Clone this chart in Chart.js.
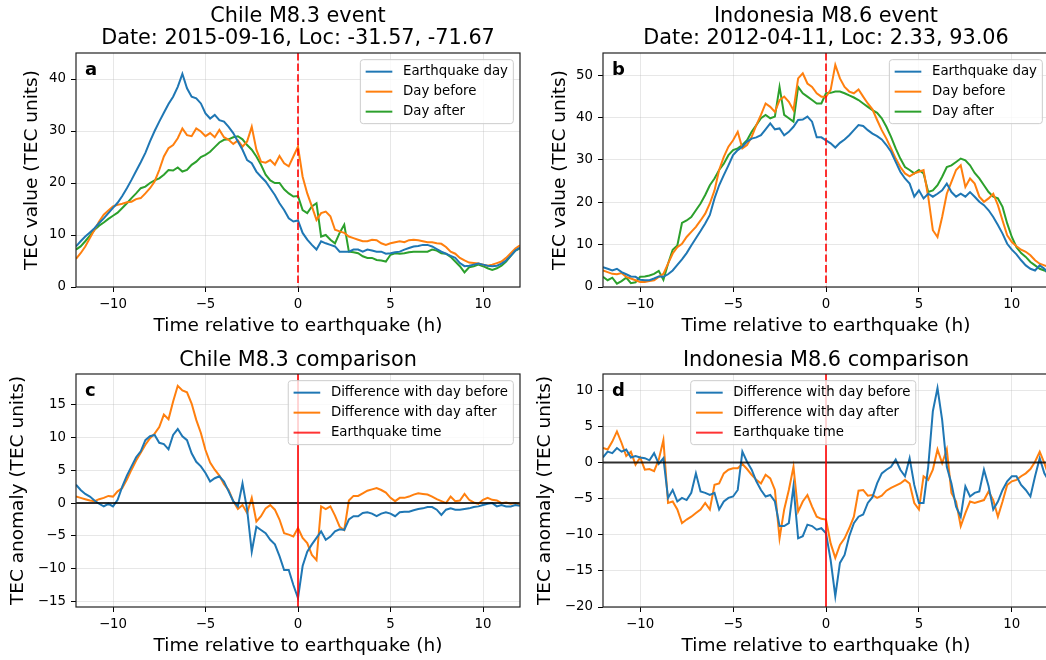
<!DOCTYPE html>
<html>
<head>
<meta charset="utf-8">
<title>TEC around two earthquakes</title>
<script src="https://cdn.jsdelivr.net/npm/chart.js@4.4.0/dist/chart.umd.min.js"></script>
<style>
    html, body { margin: 0; padding: 0; background: #fff; overflow: hidden; }
    body { width: 1046px; height: 660px; position: relative; }
    canvas.panel { position: absolute; }
</style>
</head>
<body>
<canvas id="chartA" class="panel" width="530" height="340" style="left:0;top:0"></canvas>
<canvas id="chartB" class="panel" width="520" height="340" style="left:530px;top:0"></canvas>
<canvas id="chartC" class="panel" width="530" height="320" style="left:0;top:340px"></canvas>
<canvas id="chartD" class="panel" width="520" height="320" style="left:530px;top:340px"></canvas>
<script>
// hours relative to the earthquake (15 min samples)
var times = [
    -12, -11.75, -11.5, -11.25, -11, -10.75, -10.5, -10.25,
    -10, -9.75, -9.5, -9.25, -9, -8.75, -8.5, -8.25,
    -8, -7.75, -7.5, -7.25, -7, -6.75, -6.5, -6.25,
    -6, -5.75, -5.5, -5.25, -5, -4.75, -4.5, -4.25,
    -4, -3.75, -3.5, -3.25, -3, -2.75, -2.5, -2.25,
    -2, -1.75, -1.5, -1.25, -1, -0.75, -0.5, -0.25,
    0, 0.25, 0.5, 0.75, 1, 1.25, 1.5, 1.75,
    2, 2.25, 2.5, 2.75, 3, 3.25, 3.5, 3.75,
    4, 4.25, 4.5, 4.75, 5, 5.25, 5.5, 5.75,
    6, 6.25, 6.5, 6.75, 7, 7.25, 7.5, 7.75,
    8, 8.25, 8.5, 8.75, 9, 9.25, 9.5, 9.75,
    10, 10.25, 10.5, 10.75, 11, 11.25, 11.5, 11.75,
    12
];
var eqHour = 0;
var zeroLevel = 0;

var xTicks = [-10, -5, 0, 5, 10];
var aTicks = [0, 10, 20, 30, 40];
var bTicks = [0, 10, 20, 30, 40, 50];
var cTicks = [-15, -10, -5, 0, 5, 10, 15];
var dTicks = [-20, -15, -10, -5, 0, 5, 10];

// Chile M8.3 - TEC values
var chileEqDay = [
    7.8, 8.8, 9.7, 10.5, 11.3, 12.3, 13.2, 14.2,
    15.2, 16.2, 17.5, 19, 20.6, 22.3, 24, 25.8,
    28, 30, 31.8, 33.5, 35.2, 36.6, 38.5, 41,
    38.2, 36.6, 36.3, 35.3, 33.4, 32.4, 33.1, 32.1,
    31.8, 30.8, 29.6, 28, 26.4, 24.4, 23.8, 22.2,
    21.2, 20.3, 19, 17.7, 16.1, 14.8, 13.2, 12.6,
    12.8, 10.4, 9.1, 8.1, 7.2, 8.8, 8.4, 8.1,
    7.8, 6.8, 6.8, 6.8, 7.2, 7.2, 6.8, 7.2,
    7, 6.8, 6.8, 6.4, 6.5, 6.7, 6.8, 7.2,
    7.5, 7.8, 7.9, 8.1, 8.1, 7.8, 7.3, 6.8,
    6.4, 6.0, 5.6, 4.6, 4.0, 4.1, 4.3, 4.5,
    4.3, 4.1, 4.0, 4.1, 4.5, 5.1, 6.0, 7.0,
    7.6
];
var chileBefore = [
    5.4, 6.5, 7.8, 9.4, 11, 12.6, 13.9, 14.7,
    15.5, 15.8, 16.0, 16.3, 16.4, 16.9, 17.1, 18.0,
    19.0, 20.3, 22.5, 25.1, 26.7, 27.3, 28.6, 30.5,
    29.2, 29.0, 30.5, 29.9, 29.0, 29.6, 28.8, 30.2,
    28.8, 28.3, 27.5, 28.2, 27, 28, 30.8, 26.4,
    24.1, 23.9, 24.4, 23.5, 25.2, 23.8, 23.2, 25.1,
    27, 21.2, 18, 15.5, 12.9, 14.2, 14.5, 13.6,
    11, 10.7, 10.4, 9.7, 9.4, 9.1, 8.8, 8.8,
    9.1, 9.0, 8.4, 8.1, 8.4, 8.6, 8.8, 8.6,
    9.0, 9.1, 9.0, 8.8, 8.6, 8.6, 8.4, 8.3,
    7.7, 6.8, 6.4, 5.6, 5.1, 4.7, 4.6, 4.5,
    4.3, 4.1, 4.3, 4.6, 4.9, 5.6, 6.5, 7.4,
    8.0
];
var chileAfter = [
    7.2, 7.8, 8.8, 9.9, 11, 11.8, 12.4, 13.1,
    13.7, 14.3, 15.2, 16.1, 17.1, 18.0, 19.0, 19.3,
    20, 20.5, 20.9, 21.6, 22.5, 22.4, 23, 22.2,
    22.5, 23.5, 24.1, 25, 25.4, 26, 26.9, 27.8,
    28.3, 28.4, 28.8, 29.0, 28.4, 27.3, 26.4, 25.1,
    23.5, 21.6, 20.5, 20, 20, 18.8, 18, 17.4,
    17.5, 14.8, 14.2, 15.5, 16.1, 9.7, 10, 9.1,
    8.4, 10.4, 12, 6.8, 6.7, 6.5, 5.9, 5.6,
    5.6, 5.2, 5.1, 4.9, 6.2, 6.5, 6.4, 6.5,
    6.7, 6.8, 6.8, 6.8, 6.8, 7.2, 7.0, 6.5,
    6.4, 5.8, 4.9, 4.0, 2.8, 3.8, 4.0, 4.3,
    4.0, 3.6, 3.3, 3.6, 4.1, 4.9, 6.0, 7.0,
    7.4
];

// Indonesia M8.6 - TEC values
var indoEqDay = [
    4.7, 4.3, 3.9, 4.3, 3.5, 3.0, 2.5, 2.4,
    1.7, 1.6, 1.6, 2.0, 2.5, 2.4, 3.0, 3.9,
    5.2, 6.5, 8, 9.8, 11.5, 13.2, 15, 17,
    20.9, 24, 26.4, 28.7, 31.1, 32.3, 33.1, 34.3,
    35, 35.3, 35.8, 37.2, 38.6, 37.2, 37.4, 35.8,
    36.6, 37.8, 39.4, 39.5, 40.2, 39, 35.3, 35.3,
    34.6, 33.9, 32.9, 34, 34.8, 35.8, 37, 38.2,
    38, 37, 36.2, 35.6, 34.8, 33.5, 31.9, 29.5,
    27.2, 25.6, 24.4, 21.3, 22.8, 20.9, 22, 21.3,
    22, 22.8, 24.4, 22.4, 21.3, 22, 21.3, 22.4,
    21.3, 20.1, 19.3, 18.1, 16.5, 14.6, 12.6, 10.2,
    8.8, 7.7, 6.3, 5.1, 4.3, 3.9, 5.1, 4.3,
    3.0
];
var indoBefore = [
    3.9, 3.5, 3.1, 3.0, 3.3, 2.4, 2.0, 1.6,
    1.2, 1.2, 1.4, 1.6, 2.4, 3.1, 5.5, 7.9,
    9.4, 10.2, 11.8, 13, 14.2, 15.7, 17.3, 19.7,
    22.8, 27.6, 30.7, 33.1, 34.6, 36.6, 32.7, 33.5,
    35.4, 38.2, 40.6, 43.3, 42.5, 41.3, 44.1, 44.9,
    43.7, 41.7, 49.2, 50.4, 48, 47.2, 45.7, 44.9,
    44.9, 46.5, 52.4, 49.2, 47.2, 46.1, 45.7, 46.6,
    44.9, 43.3, 41.9, 39.4, 37, 35, 32.7, 30.3,
    28.3, 26.8, 26.1, 26.8, 27.2, 27.6, 21.3, 13.4,
    11.8, 16.5, 22, 24.8, 27.6, 28.7, 23.6, 25.6,
    24.4, 21.3, 20.1, 20.9, 22, 19.3, 15.7, 12.2,
    10.6, 9.6, 8.8, 8.3, 7.5, 6.3, 5.5, 5.1,
    4.7
];
var indoAfter = [
    2.4, 1.6, 2.2, 0.8, 1.4, 2.2, 0.9, 1.1,
    2.4, 2.5, 2.7, 3.1, 3.8, 1.7, 5.5, 8.8,
    9.8, 15.1, 15.7, 16.5, 18.1, 19.7, 21.7, 24,
    25.6, 27.6, 29.1, 31.1, 32.3, 32.7, 33.5, 34.6,
    36.6, 38.2, 39.8, 40.6, 39.8, 40.2, 47.2, 40.6,
    39.8, 39, 47.2, 45.7, 44.9, 44.1, 43.3, 43.3,
    45.7, 45.8, 46.1, 46.1, 45.7, 45.2, 44.7, 44.1,
    43.3, 42.5, 41.7, 41.1, 39.8, 37.8, 35.4, 32.7,
    30.3, 28.3, 27.6, 26.8, 27.6, 26.8, 22.4, 22.8,
    24, 26, 28.3, 28.7, 29.5, 30.3, 29.9, 28.7,
    26.9, 25.6, 24, 22.4, 21.3, 20.9, 18.9, 15,
    11.8, 9.4, 8, 7.1, 5.9, 5.1, 4.3, 3.9,
    3.3
];

// Chile M8.3 - anomalies
var chileDiffBefore = [
    2.8, 2.0, 1.4, 1.0, 0.4, -0.1, -0.5, -0.1,
    -0.5, 0.5, 2.5, 4.2, 5.6, 7, 7.9, 9.6,
    10.2, 10.4, 9.2, 9.0, 8.2, 10.4, 11.3, 10.2,
    9.6, 7.6, 6.3, 5.6, 4.6, 3.3, 3.8, 4.1,
    3.3, 1.8, 0.3, -0.5, 3.0, -1, -7.4, -3.6,
    -4.1, -4.6, -5.6, -6.3, -8.1, -10.2, -10.2, -12.5,
    -14.5, -9.6, -7.4, -6.3, -5.3, -4.3, -5.6, -5.1,
    -4.3, -4, -4.1, -2.5, -2, -2, -1.5, -1.4,
    -1.6, -2, -1.6, -1.4, -1.6, -2, -1.4, -1.3,
    -1.3, -1.1, -0.9, -0.8, -0.6, -0.6, -1, -1.8,
    -1, -0.8, -1, -1, -0.9, -0.8, -0.6, -0.5,
    -0.3, -0.1, 0, -0.5, -0.3, -0.5, -0.5, -0.3,
    -0.4
];
var chileDiffAfter = [
    1.0, 0.8, 0.6, 0.4, 0.3, 0.6, 0.8, 1.1,
    1.0, 1.8, 2.3, 3.6, 5.1, 6.5, 7.7, 8.9,
    9.9, 10.6, 11.6, 13.5, 12.8, 15.5, 17.9, 17.2,
    16.9, 15.2, 12.7, 10.7, 8.1, 6.2, 5.1, 4.2,
    2.9, 2.0, 0.3, -0.9, -0.3, -1.5, 0.8, -2.8,
    -2, -0.8, -0.3, -1, -2.5, -4.6, -4.8, -5.1,
    -3.8, -5.3, -6.1, -7.9, -8.7, -0.5, -0.9, -0.5,
    -1.9, -3.6, -4.1, 0.4, 1.1, 1.1, 1.5, 1.9,
    2.1, 2.3, 2.0, 1.6, 0.8, 0.3, 0.8, 0.8,
    1.0, 1.3, 1.5, 1.4, 1.3, 1.0, 0.6, 0.3,
    0, 1.0, 0.3, 0.4, 1.4, 0.5, 0.1, -0.1,
    0.5, 0.8, 0.5, 0.4, 0, 0.1, -0.1, 0,
    -0.3
];

// Indonesia M8.6 - anomalies
var indoDiffBefore = [
    0.7, 1.5, 1.3, 2.0, 1.5, 1.8, 0.7, 0.9,
    0.7, 0.6, 0.3, 1.3, -0.2, 0.6, -4.9, -3.8,
    -5.4, -4.9, -5.2, -4.2, -1.5, -4, -4.2, -4.5,
    -4.2, -6.5, -5.4, -4.9, -4.7, -3.8, 1.5, 0.1,
    -1, -2.6, -3.8, -4.7, -4.5, -5.4, -8.8, -8.8,
    -8.4, -3.3, -10.5, -10.2, -8.6, -8.8, -9.3, -9.1,
    -9.8, -13.5, -18.5, -13.9, -12.8, -10.2, -8.4, -7.5,
    -7.2, -5.6, -4.8, -2.9, -1.5, -1, -0.6, 0.4,
    -1, -1.9, 0.6, -3.1, -5.6, -5.6, -0.6, 7.1,
    10.3, 5.9, -0.6, -2.9, -6.1, -7.5, -3.3, -4.7,
    -4.2, -4, -1, -3.3, -6.5, -5.4, -3.8, -2.6,
    -1.9, -1.9, -3.1, -3.8, -4.7, -1.9, 0.6, -1.5,
    -2.6
];
var indoDiffAfter = [
    2.0, 1.8, 2.9, 4.3, 2.7, 0.9, 1.5, -0.3,
    0.7, -1, -0.9, -1.2, 0.4, 3.1, -5.6, -5.4,
    -6.5, -8.4, -7.9, -7.5, -7, -6.5, -5.6, -6.5,
    -3.1, -2.9, -1.5, -1, -0.8, -0.8, -0.2, -0.9,
    -1.7, -2.4, -2.9, -1.7, -2.2, -3.8, -10.5, -6.5,
    -3.8, -0.6, -6.8, -5.4, -4.5, -6.1, -7.5, -7.8,
    -7.9, -11.2, -13.2, -11.4, -10.5, -9.1, -7.5, -3.9,
    -3.8, -4.6, -4.5, -4.9, -4.6, -3.9, -3.5, -3.2,
    -2.9, -2.4, -2.9, -5.6, -6.5, -1.9, -2.4, -1,
    1.8, -0.1, 1.8, -4.2, -5.4, -8.8, -7, -5.4,
    -5.6, -5.4, -5.2, -4, -5.2, -7.5, -5.4, -3.1,
    -2.6, -2.4, -1.9, -1.5, -0.9, 0.1, 1.5, -0.1,
    -1.9
];

var FONT = '"DejaVu Sans", sans-serif';
var BLUE = '#1f77b4', ORANGE = '#ff7f0e', GREEN = '#2ca02c';
var EQ_RED = 'rgba(255, 0, 0, 0.8)';
var GRID = 'rgba(176, 176, 176, 0.3)';

function minus(v) {
    return String(v).replace('-', '\u2212');
}

function series(values, label, color) {
    return {
        label: label,
        data: times.map(function (t, i) { return {x: t, y: values[i]}; }),
        borderColor: color,
        borderWidth: 2,
        pointRadius: 0,
        tension: 0,
        fill: false,
        clip: 0
    };
}

function roundRect(ctx, x, y, w, h, r) {
    ctx.beginPath();
    ctx.moveTo(x + r, y);
    ctx.arcTo(x + w, y, x + w, y + h, r);
    ctx.arcTo(x + w, y + h, x, y + h, r);
    ctx.arcTo(x, y + h, x, y, r);
    ctx.arcTo(x, y, x + w, y, r);
    ctx.closePath();
}

// reference lines, frame, legend, panel letter and title
var decor = {
    id: 'decor',
    afterDatasetsDraw: function (chart, args, o) {
        var ctx = chart.ctx, ca = chart.chartArea;
        var xs = chart.scales.x, ys = chart.scales.y;

        ctx.save();
        ctx.beginPath();
        ctx.rect(ca.left, ca.top, ca.right - ca.left, ca.bottom - ca.top);
        ctx.clip();
        if (o.zeroLine) {
            var zy = ys.getPixelForValue(zeroLevel);
            ctx.strokeStyle = 'rgba(0, 0, 0, 0.8)';
            ctx.lineWidth = 2;
            ctx.beginPath();
            ctx.moveTo(ca.left, zy);
            ctx.lineTo(ca.right, zy);
            ctx.stroke();
        }
        var ex = xs.getPixelForValue(eqHour);
        ctx.strokeStyle = EQ_RED;
        ctx.lineWidth = 2;
        ctx.setLineDash(o.dashed ? [7.4, 3.2] : []);
        ctx.beginPath();
        ctx.moveTo(ex, ca.top);
        ctx.lineTo(ex, ca.bottom);
        ctx.stroke();
        ctx.restore();

        ctx.save();
        ctx.strokeStyle = '#222';
        ctx.lineWidth = 1.2;
        ctx.strokeRect(ca.left, ca.top, ca.right - ca.left, ca.bottom - ca.top);

        // legend box, matplotlib style
        var items = chart.data.datasets.map(function (d) {
            return {label: d.label, color: d.borderColor};
        });
        if (o.eqLabel) {
            items.push({label: o.eqLabel, color: EQ_RED});
        }
        var fs = 13.33;
        ctx.font = fs + 'px ' + FONT;
        var textW = Math.max.apply(null, items.map(function (it) {
            return ctx.measureText(it.label).width;
        }));
        var pad = 0.4 * fs, hLen = 2 * fs, hPad = 0.8 * fs, gap = 0.5 * fs;
        var bw = pad + hLen + hPad + textW + pad;
        var bh = 2 * pad + items.length * fs + (items.length - 1) * gap;
        var bx = o.legendLeft != null ? ca.left + o.legendLeft : ca.right - 0.5 * fs - bw;
        var by = ca.top + 0.5 * fs;
        roundRect(ctx, bx, by, bw, bh, 3);
        ctx.fillStyle = 'rgba(255, 255, 255, 0.8)';
        ctx.fill();
        ctx.strokeStyle = '#cccccc';
        ctx.lineWidth = 1;
        ctx.stroke();
        ctx.textAlign = 'left';
        ctx.textBaseline = 'middle';
        items.forEach(function (it, i) {
            var cy = by + pad + fs / 2 + i * (fs + gap);
            ctx.strokeStyle = it.color;
            ctx.lineWidth = 2;
            ctx.beginPath();
            ctx.moveTo(bx + pad, cy);
            ctx.lineTo(bx + pad + hLen, cy);
            ctx.stroke();
            ctx.fillStyle = '#000';
            ctx.fillText(it.label, bx + pad + hLen + hPad, cy);
        });

        ctx.font = 'bold 18px ' + FONT;
        ctx.textBaseline = 'alphabetic';
        ctx.fillText(o.letter, ca.left + 9, ca.top + 21.5);

        ctx.font = '20.8px ' + FONT;
        ctx.textAlign = 'center';
        o.title.forEach(function (line, i) {
            ctx.fillText(line, (ca.left + ca.right) / 2, o.titleY + i * 22);
        });
        ctx.restore();
    }
};

function buildScales(yMin, yMax, yTicks, yTitle, yWidth, yTitlePad) {
    var tickFont = {family: FONT, size: 13.33};
    var labelFont = {family: FONT, size: 18.5};
    return {
        x: {
            type: 'linear',
            min: -12,
            max: 12,
            afterBuildTicks: function (s) {
                s.ticks = xTicks.map(function (v) { return {value: v}; });
            },
            afterFit: function (s) { s.height = 53; },
            grid: {color: GRID, lineWidth: 1, tickLength: 5, tickColor: '#000', tickWidth: 1},
            border: {display: false},
            ticks: {color: '#000', font: tickFont, padding: 5, maxRotation: 0, autoSkip: false, callback: minus},
            title: {display: true, text: 'Time relative to earthquake (h)', color: '#000', font: labelFont,
                    padding: {top: 0, bottom: 3}}
        },
        y: {
            type: 'linear',
            min: yMin,
            max: yMax,
            afterBuildTicks: function (s) {
                s.ticks = yTicks.map(function (v) { return {value: v}; });
            },
            afterFit: function (s) { s.width = yWidth; },
            grid: {color: GRID, lineWidth: 1, tickLength: 5, tickColor: '#000', tickWidth: 1},
            border: {display: false},
            ticks: {color: '#000', font: tickFont, padding: 5, autoSkip: false, callback: minus},
            title: {display: true, text: yTitle, color: '#000', font: labelFont,
                    padding: {top: yTitlePad, bottom: 0}}
        }
    };
}

function makeChart(id, datasets, scales, padding, decorOpts) {
    return new Chart(document.getElementById(id), {
        type: 'line',
        data: {datasets: datasets},
        options: {
            responsive: false,
            animation: false,
            events: [],
            layout: {padding: padding},
            scales: scales,
            plugins: {
                legend: {display: false},
                tooltip: {enabled: false},
                decor: decorOpts
            }
        },
        plugins: [decor]
    });
}

makeChart('chartA', [
    series(chileEqDay, 'Earthquake day', BLUE),
    series(chileBefore, 'Day before', ORANGE),
    series(chileAfter, 'Day after', GREEN)
], buildScales(0, 45, aTicks, 'TEC value (TEC units)', 76, 21.4),
    {top: 53, right: 10, bottom: 0, left: 0},
    {letter: 'a', dashed: true, titleY: 22,
     title: ['Chile M8.3 event', 'Date: 2015-09-16, Loc: -31.57, -71.67']});

makeChart('chartB', [
    series(indoEqDay, 'Earthquake day', BLUE),
    series(indoBefore, 'Day before', ORANGE),
    series(indoAfter, 'Day after', GREEN)
], buildScales(0, 55.2, bTicks, 'TEC value (TEC units)', 73, 18.9),
    {top: 53, right: 1, bottom: 0, left: 0},
    {letter: 'b', dashed: true, titleY: 22,
     title: ['Indonesia M8.6 event', 'Date: 2012-04-11, Loc: 2.33, 93.06']});

makeChart('chartC', [
    series(chileDiffBefore, 'Difference with day before', BLUE),
    series(chileDiffAfter, 'Difference with day after', ORANGE)
], buildScales(-15.85, 19.7, cTicks, 'TEC anomaly (TEC units)', 76, 7.4),
    {top: 34, right: 10, bottom: 0, left: 0},
    {letter: 'c', zeroLine: true, eqLabel: 'Earthquake time', titleY: 25.5,
     title: ['Chile M8.3 comparison']});

makeChart('chartD', [
    series(indoDiffBefore, 'Difference with day before', BLUE),
    series(indoDiffAfter, 'Difference with day after', ORANGE)
], buildScales(-20, 12.25, dTicks, 'TEC anomaly (TEC units)', 73, 4.4),
    {top: 34, right: 1, bottom: 0, left: 0},
    {letter: 'd', zeroLine: true, eqLabel: 'Earthquake time', legendLeft: 87.7, titleY: 25.5,
     title: ['Indonesia M8.6 comparison']});
</script>
</body>
</html>
